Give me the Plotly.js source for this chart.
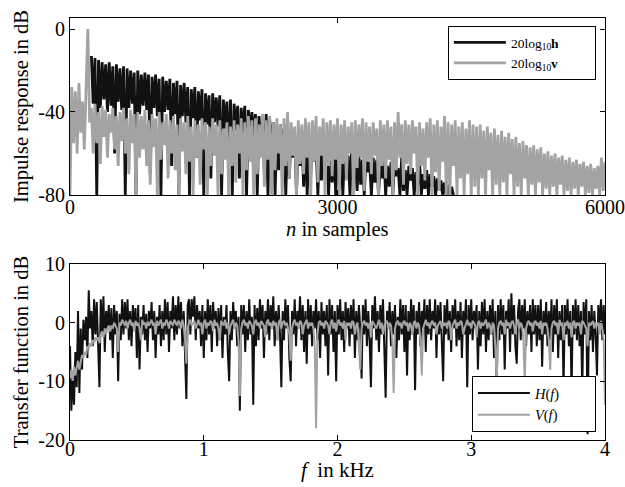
<!DOCTYPE html>
<html>
<head>
<meta charset="utf-8">
<script src="https://cdn.plot.ly/plotly-3.0.1.min.js"></script>
<style>html,body{margin:0;padding:0;background:#fff;}#chart{width:625px;height:487px;}</style>
</head>
<body>
<div id="chart"></div>
<script>
// ---------- Top panel: impulse responses (dB) ----------
const nStepTop = 20;            // sample spacing of the read-off values
const hStart = 240;             // first sample of h
const vStart = 0;               // first sample of v
const hDb = [
 -13,-36,-14,-80,-15,-38,-16,-34,-17,-40,
 -16,-37,-18,-60,-17,-35,-19,-39,-18,-80,
 -19,-38,-20,-36,-21,-80,-20,-41,-22,-37,
 -21,-39,-22,-70,-23,-38,-22,-42,-24,-80,
 -23,-40,-25,-39,-24,-66,-26,-41,-25,-80,
 -27,-42,-26,-45,-28,-80,-29,-43,-28,-62,
 -30,-44,-29,-80,-31,-46,-32,-72,-31,-45,
 -33,-47,-32,-80,-34,-48,-35,-65,-34,-80,
 -36,-49,-37,-72,-38,-50,-37,-80,-39,-51,
 -40,-52,-41,-80,-42,-55,-43,-70,-41,-80,
 -44,-56,-45,-80,-47,-68,-46,-60,-48,-80,
 -50,-72,-49,-62,-51,-80,-52,-66,-50,-76,
 -53,-80,-55,-70,-52,-64,-56,-80,-54,-73,
 -57,-68,-55,-80,-58,-74,-56,-80,-59,-66,
 -60,-80,-58,-72,-61,-80,-57,-70,-62,-78,
 -60,-75,-63,-80,-61,-69,-64,-80,-62,-74,
 -63,-80,-65,-72,-60,-80,-66,-76,-64,-80,
 -65,-71,-67,-80,-62,-78,-68,-80,-66,-73,
 -67,-80,-69,-75,-64,-80,-70,-77,-68,-80,
 -70,-76,-71,-80,-72,-78,-73,-80,-74,-80,
 -75,-80,-76,-80
];
const vDb = [
 -80,-28,-55,-30,-60,-26,-50,-35,-58,-31,
 0,-45,-38,-60,-36,-55,-40,-65,-37,-52,
 -39,-62,-41,-50,-38,-58,-42,-66,-40,-54,
 -38,-60,-43,-70,-39,-55,-41,-80,-40,-62,
 -42,-58,-39,-66,-44,-75,-41,-57,-43,-80,
 -40,-63,-45,-56,-41,-72,-44,-60,-42,-68,
 -46,-80,-43,-59,-45,-70,-42,-64,-47,-80,
 -44,-62,-46,-75,-43,-58,-45,-80,-47,-66,
 -43,-61,-46,-80,-44,-70,-48,-63,-45,-80,
 -47,-66,-44,-74,-46,-60,-43,-80,-45,-68,
 -42,-64,-44,-80,-43,-70,-46,-62,-41,-76,
 -44,-63,-42,-80,-45,-68,-43,-60,-46,-80,
 -43,-66,-40,-72,-45,-61,-47,-80,-44,-65,
 -46,-70,-43,-62,-45,-80,-44,-64,-42,-74,
 -47,-61,-43,-80,-45,-66,-44,-71,-46,-63,
 -43,-80,-46,-65,-44,-73,-47,-60,-45,-80,
 -44,-67,-46,-62,-43,-78,-45,-64,-47,-70,
 -45,-61,-48,-80,-44,-66,-46,-72,-44,-63,
 -47,-80,-45,-68,-40,-62,-46,-75,-44,-65,
 -46,-70,-44,-60,-47,-80,-45,-66,-48,-73,
 -45,-62,-43,-80,-46,-69,-44,-78,-47,-64,
 -42,-80,-45,-80,-46,-66,-44,-80,-47,-72,
 -45,-80,-48,-70,-44,-80,-46,-76,-47,-80,
 -46,-72,-49,-80,-47,-68,-50,-80,-48,-75,
 -51,-80,-49,-74,-52,-80,-50,-70,-53,-80,
 -52,-76,-55,-80,-54,-72,-56,-80,-57,-75,
 -56,-80,-58,-74,-57,-80,-60,-77,-59,-80,
 -61,-76,-60,-80,-62,-75,-61,-80,-63,-78,
 -62,-80,-64,-77,-63,-80,-65,-76,-64,-80,
 -66,-79,-65,-80,-67,-77,-66,-80,-62,-78,
 -64
];
const topXTicks = [0, 3000, 6000];
const topYTicks = [-80, -40, 0];

// ---------- Bottom panel: transfer functions (dB) ----------
const fStep = 0.01;             // kHz spacing of the read-off values
const HfDb = [
 -4,-15,-9,-14,-5,-11,2,-12,-1,-8,
 0.5,-3,1,-6,5.5,-1,2,-4,4,-2,
 3.5,-4,-11,4,-2,4.5,-5,2,-1,3,
 -3,2.5,-6,3,-2,2,-10,1.5,-3,4,
 -2,3.5,-1,4,-3,2,-4,3,-1,2.5,
 -6,3,-8,1,-2,3,-3,1.5,-5,2,
 -1,3.5,-3,2,-6,1,-2,3,-4,2,
 -3,4,-2,3.5,-5,2,-1,4.5,-3,3,
 -2,4.5,-1,3.5,-4,2,-6,-13,3,4,
 -2,4,1,4.5,-3,3,-1,2,-4,3,
 -6,2,-3,4,-2,3,-5,3.5,-1,2,
 -4,2.5,-3,3,-6,1,-2,3,-5,-10,
 2,-3,3.5,-1,2,-4,1,-15,3,-2,
 3,-5,2,-3,4,-2,1,-14,3,-4,
 2.5,-3,4,-1,3,-6,2,-2,4,-3,
 3,-1,4.5,-4,2,-3,3,-2,-11,2,
 -3,4,-1,3,-6,-10,2,-2,4,-4,
 2,-1,4.5,-3,3,-5,2,-7,4,-2,
 3,-4,2,-1,4,-3,2,-6,3.5,-2,
 2,-4,3,-9,4,-2,3,-5,2,-10,
 3,-2,4,-3,2,-5,3.5,-1,2.5,-4,
 3,-2,4,-6,2,-3,3,-1,-9.5,3,
 -2,4,-4,2,-3,-11,3,-1,4.5,-3,
 2,-5,3,-2,4,-3,-12.8,2,-1,3.5,
 -4,2,-2,3,-6,1,-3,4,-2,3,
 -5,3,-9,2,-3,4,-2,3,-11.5,2,
 -2,3.5,-4,2,-1,4,-5,3,-2,4,
 -3,2,-1,4,-6,3,-2,3.5,-4,-10,
 3,-2,4,-3,2,-5,3,-1,4,-4,
 2,-3,3.5,-6,2,-2,4,-11,3,-2,
 4,-3,2,-1,3,-8,2,-4,3.5,-2,
 4,-5,2,-3,3,-2,4,-6,2,-12,
 3,-3,4,-2,3,-8,2,-1,4,-5,
 5,-2,3,-4,-7,2,4,-3,3,-1,
 4,-4,2,-2,3,-5,4,-2,3,-4,
 3,-3,4,-7.5,2,-2,3.5,-4,2,-3,
 4,-5,3,-2,4,-6,2,-3,3,-11,
 3,-2,4,-4,2,-12,3,-2,4,-3,
 3,-4,2,-12,3.5,-2,4,-19,2,-3,
 3,-5,2,-2,-9,3,-1,4,-3,3,
 -2
];
const VfDb = [
 -9.5,-8,-10,-7.5,-9,-8,-6.5,-8,-7,-5.5,
 -6,-5,-5.5,-4,-4.5,-3.5,-4,-3,-3.5,-2.5,
 -3,-2.5,-3.5,-2,-1.5,-2.5,-1,-2,-1,-0.5,
 -1.5,-0.5,-1,0,-0.5,-1,-5,0,-0.5,0.5,
 0,-0.5,0.3,-1,0,0.5,-0.5,0,-1.5,0.3,
 -0.5,0,-1,-3,0.5,-0.3,0,-1,0.2,-0.5,
 0,0.5,-0.5,0,-2,0.3,-0.5,0,0.5,-1,
 0,-0.5,0.5,0,-1,0.3,0,-0.5,0.5,0,
 -0.5,0.3,0,-1,0.5,-0.5,-3,-7,-1,0,
 0.5,-0.5,0,0.3,-1,0,0.5,-0.5,0,-2,
 0,0.5,-1,0,-0.5,0.3,0,-1.5,0.5,-0.5,
 0,-1,-3,0.3,0,-0.5,0.5,-1,0,-2,
 -0.5,0,0.5,-1,0,-0.5,-3,-12.5,-1,0,
 0.5,-0.5,0,-1,0.3,0,-0.5,-2,0,0.5,
 -0.5,0,-1,0.3,0,-0.5,-2.5,0,0.5,-0.5,
 0,-1,0.3,-0.5,0,-3,0,0.5,-1,0,
 0.3,-0.5,0,-1,-2,-6.5,-1,0,0.5,-0.5,
 0,-1,0.3,0,-2,-0.5,0,0.5,-1,0,
 -0.5,0,-1,-4,-18,-2,0,0.3,-0.5,0,
 -1,0.3,0,-0.5,-2,0,0.5,-1,0,-1.5,
 0,0.5,-0.5,0,-1,0.3,-3,0,-0.5,0,
 -1,0.3,0,-2,-0.5,0,-4,-8,-1,0,
 0.3,-0.5,0,-1,0,-2.5,0.3,0,-0.5,-1,
 0,0.5,-1,0,-2,-0.5,0,0.3,-1,0,
 -0.5,-3,-12,-1,0,0.3,-0.5,0,-1,0,
 0.3,-0.5,0,-1.5,0,-0.5,-2,0,0.3,-1,
 0,-0.5,-3,-9,-1,0,0.5,-0.5,0,-1,
 0,0.3,-0.5,0,-2,-0.5,0,0.3,-1,0,
 -0.5,0,-1,0.3,0,-3,-0.5,0,0.5,-1,
 0,-0.5,0.3,0,-2,-1,0,0.5,-0.5,0,
 -1,0.3,0,-0.5,-2.5,0,0.3,-1,0,-0.5,
 0,0.5,-1,0,-0.5,-2,0,-0.5,-4,-10.5,
 -1,0,0.3,-0.5,0,-2,0.5,-0.5,0,-1,
 0,0.3,-0.5,-2,0,0.5,-1,0,-0.5,-3,
 -10,-1,0,0.3,-0.5,0,-1.5,0,0.3,-0.5,
 0,-1,0.3,-2,0,-0.5,0,-1,-3,-8,
 -1,0,0.3,-0.5,0,-2,0.5,-0.5,0,-3,
 0,-0.5,0.3,-1,0,-2.5,0,0.3,-1,0,
 -0.5,0,-2,0.3,0,-0.5,-1,-4,0,-0.5,
 0,0.3,-1,0,-0.5,0,-2,0.3,-1,-3,
 -14
];
const botXTicks = [0, 1, 2, 3, 4];
const botYTicks = [-20, -10, 0, 10];

// sample / frequency positions of the read-off values
const nH = hDb.map((_, i) => hStart + i * nStepTop);
const nV = vDb.map((_, i) => vStart + i * nStepTop);
const fH = HfDb.map((_, i) => +(i * fStep).toFixed(3));
const fV = VfDb.map((_, i) => +(i * fStep).toFixed(3));

const BLACK = '#111111';
const GRAY = '#a3a3a3';
const FONT = 'Liberation Serif, Times New Roman, serif';
const PAD = '&nbsp;'.repeat(9);
const PAD2 = '&nbsp;'.repeat(8);

const traces = [
  {x: nH, y: hDb, type: 'scatter', mode: 'lines', xaxis: 'x', yaxis: 'y',
   line: {color: BLACK, width: 2.8}, name: '20log<sub>10</sub><b>h</b>' + PAD, legend: 'legend'},
  {x: nV, y: vDb, type: 'scatter', mode: 'lines', xaxis: 'x', yaxis: 'y',
   line: {color: GRAY, width: 2.8}, name: '20log<sub>10</sub><b>v</b>' + PAD, legend: 'legend'},
  {x: fH, y: HfDb, type: 'scatter', mode: 'lines', xaxis: 'x2', yaxis: 'y2',
   line: {color: BLACK, width: 2}, name: '<i>H</i>(<i>f</i>)' + PAD2, legend: 'legend2'},
  {x: fV, y: VfDb, type: 'scatter', mode: 'lines', xaxis: 'x2', yaxis: 'y2',
   line: {color: GRAY, width: 2}, name: '<i>V</i>(<i>f</i>)' + PAD2, legend: 'legend2'}
];

const axisBase = {
  showline: true, linecolor: '#000', linewidth: 1, mirror: 'ticks',
  ticks: 'inside', ticklen: 5, tickcolor: '#000', tickwidth: 1,
  showgrid: false, zeroline: false, automargin: false,
  tickfont: {family: FONT, size: 20, color: '#000'}
};

const layout = {
  width: 625, height: 487,
  margin: {l: 70, r: 20, t: 18, b: 47},
  paper_bgcolor: '#fff', plot_bgcolor: '#fff',
  font: {family: FONT, color: '#000'},
  showlegend: true,
  xaxis: Object.assign({}, axisBase, {
    domain: [0, 1], anchor: 'y', range: [0, 6000],
    tickvals: topXTicks, ticktext: topXTicks.map(String), ticklabelstandoff: -6
  }),
  yaxis: Object.assign({}, axisBase, {
    domain: [0.5806, 1], anchor: 'x', range: [-80, 5.3],
    tickvals: topYTicks, ticktext: topYTicks.map(String),
    title: {text: 'Impulse response in dB', font: {family: FONT, size: 20.5}, standoff: 4}
  }),
  xaxis2: Object.assign({}, axisBase, {
    domain: [0, 1], anchor: 'y2', range: [0, 4],
    tickvals: botXTicks, ticktext: botXTicks.map(String), ticklabelstandoff: -9
  }),
  yaxis2: Object.assign({}, axisBase, {
    domain: [0, 0.4171], anchor: 'x2', range: [-20, 10],
    tickvals: botYTicks, ticktext: botYTicks.map(String),
    title: {text: 'Transfer function in dB', font: {family: FONT, size: 20.5}, standoff: 4}
  }),
  annotations: [
    {text: '<i>n</i> in samples', xref: 'paper', yref: 'paper', x: 0.5, y: 0,
     xanchor: 'center', yanchor: 'middle', showarrow: false, font: {family: FONT, size: 20.5}},
    {text: '<i>f</i>  in kHz', xref: 'paper', yref: 'paper', x: 0.5, y: 0,
     xanchor: 'center', yanchor: 'middle', showarrow: false, font: {family: FONT, size: 21}}
  ],
  legend: {
    x: 0.983, y: 0.981, xanchor: 'right', yanchor: 'top',
    bgcolor: '#fff', bordercolor: '#000', borderwidth: 1,
    font: {family: FONT, size: 13.5, color: '#000'},
    itemwidth: 52, tracegroupgap: 0
  },
  legend2: {
    x: 0.983, y: 0.019, xanchor: 'right', yanchor: 'bottom',
    bgcolor: '#fff', bordercolor: '#000', borderwidth: 1,
    font: {family: FONT, size: 14.5, color: '#000'},
    itemwidth: 52, tracegroupgap: 0
  }
};
// x-titles: vertical centres (pixels ~229 and 470)
layout.annotations[0].y = (440 - 229) / 422;
layout.annotations[1].y = (440 - 470) / 422;

Plotly.newPlot('chart', traces, layout, {displayModeBar: false, staticPlot: true});
</script>
</body>
</html>
